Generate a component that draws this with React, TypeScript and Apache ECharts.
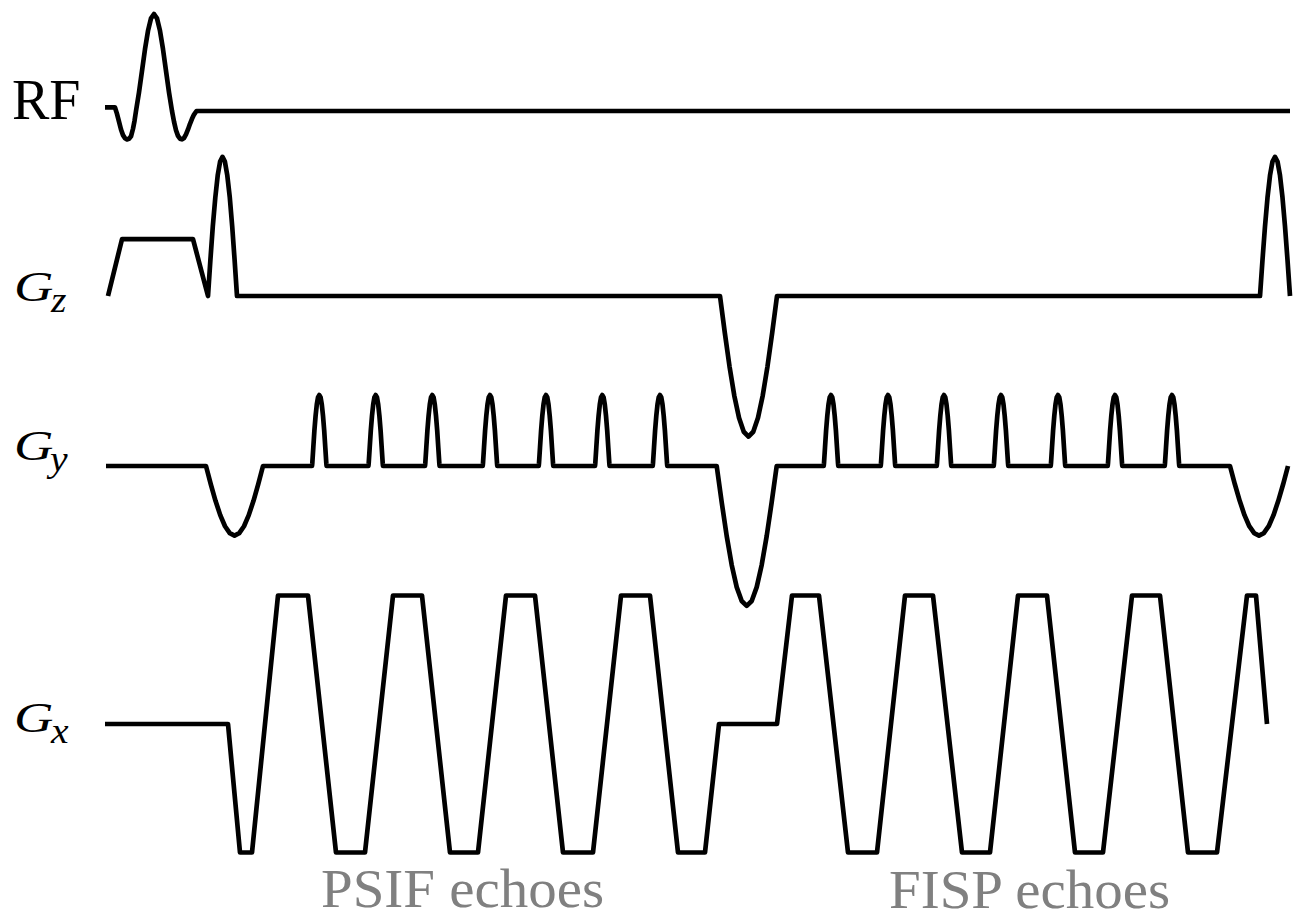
import React, { useEffect, useRef } from "react";
import * as echarts from "echarts";

// ---------- data (time in arbitrary units along the sequence, amplitude normalised) ----------
const TIME_MIN = 0;
const TIME_MAX = 1301;

const channelNames = ["RF", "G", "G", "G"];
const channelSubscripts = ["", "z", "y", "x"];
const echoLabels = ["PSIF echoes", "FISP echoes"];

// RF excitation (sinc-like) then zero
const rfWave: number[][] = [
  [105, 0.025], [115, 0.025], [117, -0.02], [119, -0.075], [121, -0.13], [123, -0.17],
  [125, -0.192], [127, -0.2], [129, -0.196], [131, -0.178], [133, -0.125], [134.5, -0.07],
  [136, 0], [139, 0.131], [142, 0.283], [145, 0.435], [148, 0.565], [151, 0.652],
  [154, 0.683], [157, 0.652], [160, 0.565], [163, 0.435], [166, 0.283], [169, 0.131],
  [172, 0], [174, -0.075], [176, -0.135], [178, -0.175], [180, -0.195], [182, -0.2],
  [184, -0.19], [186, -0.165], [188, -0.13], [190, -0.09], [192, -0.055], [194, -0.025],
  [196.5, 0], [1290, 0],
];

// Slice-select gradient
const gzWave: number[][] = [
  [108, 0], [122, 0.4], [193, 0.4], [208, 0],
  [210.4, 0.254], [212.8, 0.49], [215.3, 0.693], [217.7, 0.849], [220.1, 0.947], [222.5, 0.98],
  [224.9, 0.947], [227.3, 0.849], [229.8, 0.693], [232.2, 0.49], [234.6, 0.254], [237, 0],
  [720, 0],
  [724.75, -0.256], [729.5, -0.495], [734.25, -0.7], [739, -0.857], [743.75, -0.956], [748.5, -0.99],
  [753.25, -0.956], [758, -0.857], [762.75, -0.7], [767.5, -0.495], [772.25, -0.256], [777, 0],
  [1260, 0],
  [1262.5, 0.254], [1265, 0.49], [1267.5, 0.693], [1270, 0.849], [1272.5, 0.947], [1275, 0.98],
  [1277.5, 0.947], [1280, 0.849], [1282.5, 0.693], [1285, 0.49], [1287.5, 0.254], [1290, 0],
];

// Phase-encode gradient: prephaser, blips, rewinders
const gyPrephaser: number[][] = [
  [106, 0], [206, 0],
  [210.75, -0.127], [215.5, -0.245], [220.25, -0.346], [225, -0.424], [229.75, -0.473], [234.5, -0.49],
  [239.25, -0.473], [244, -0.424], [248.75, -0.346], [253.5, -0.245], [258.25, -0.127], [263, 0],
];
const gyBlipTimesPSIF = [319.3, 375.7, 432.3, 490, 546, 602.3, 660];
const gyMiddleRewinder: number[][] = [
  [716.7, 0],
  [721.7, -0.255], [726.7, -0.493], [731.7, -0.697], [736.7, -0.853], [741.7, -0.951], [746.7, -0.985],
  [751.7, -0.951], [756.7, -0.853], [761.7, -0.697], [766.7, -0.493], [771.7, -0.255], [776.7, 0],
];
const gyBlipTimesFISP = [831, 888, 944, 1001, 1058, 1115, 1172];
const gyEndLobe: number[][] = [
  [1230, 0],
  [1234.8, -0.127], [1239.7, -0.245], [1244.5, -0.346], [1249.3, -0.424], [1254.2, -0.473], [1259, -0.49],
  [1263.8, -0.473], [1268.7, -0.424], [1273.5, -0.346], [1278.3, -0.245], [1283.2, -0.127], [1288, 0],
];
// shape of one phase blip: [time offset from blip centre, amplitude]
const gyBlipShape: number[][] = [
  [-7.3, 0], [-7, 0.02], [-6, 0.13], [-4.9, 0.25], [-3.7, 0.354], [-2.5, 0.433], [-1.3, 0.483], [0, 0.5],
  [1.3, 0.483], [2.5, 0.433], [3.7, 0.354], [4.9, 0.25], [6, 0.13], [7, 0.02], [7.3, 0],
];

// Readout gradient (trapezoid corners)
const gxWave: number[][] = [
  [105, 0], [228, 0], [240, -0.905], [252, -0.905],
  [278, 0.905], [308, 0.905], [336, -0.905], [365, -0.905],
  [393, 0.905], [422, 0.905], [450, -0.905], [478, -0.905],
  [506, 0.905], [535, 0.905], [563, -0.905], [593, -0.905],
  [621, 0.905], [650, 0.905], [678, -0.905], [705, -0.905],
  [719, 0], [777, 0],
  [792, 0.905], [819, 0.905], [848, -0.905], [877, -0.905],
  [905, 0.905], [933, 0.905], [962, -0.905], [990, -0.905],
  [1018, 0.905], [1047, 0.905], [1075, -0.905], [1103, -0.905],
  [1132, 0.905], [1160, 0.905], [1188, -0.905], [1217, -0.905],
  [1247, 0.905], [1256, 0.905], [1267, 0],
];

// ---------- build ----------
const placeBlips = (times: number[]) => {
  const out: number[][] = [];
  times.forEach((t) => gyBlipShape.forEach(([dt, a]) => out.push([t + dt, a])));
  return out;
};
const gyWave: number[][] = [
  ...gyPrephaser,
  ...placeBlips(gyBlipTimesPSIF),
  ...gyMiddleRewinder,
  ...placeBlips(gyBlipTimesFISP),
  ...gyEndLobe,
];

const waves = [rfWave, gzWave, gyWave, gxWave];

// layout per channel: baseline (px), y-range
const PX_PER_UNIT = 142;
const channelLayout = [
  { baseline: 111, max: 0.75, min: -0.3 },
  { baseline: 296, max: 1.05, min: -1.05 },
  { baseline: 466, max: 0.6, min: -1.05 },
  { baseline: 724, max: 0.95, min: -0.95 },
];

const SERIF = "'Liberation Serif', 'Times New Roman', serif";

export default function App() {
  const ref = useRef<HTMLDivElement>(null);
  useEffect(() => {
    if (!ref.current) return;
    const chart = echarts.init(ref.current, undefined, { renderer: "svg" });

    const grids = channelLayout.map((c) => ({
      left: 0,
      right: 0,
      top: c.baseline - c.max * PX_PER_UNIT,
      height: (c.max - c.min) * PX_PER_UNIT,
      containLabel: false,
    }));
    const xAxes = channelLayout.map((_, i) => ({
      type: "value", gridIndex: i, min: TIME_MIN, max: TIME_MAX, show: false,
    }));
    const yAxes = channelLayout.map((c, i) => ({
      type: "value", gridIndex: i, min: c.min, max: c.max, show: false,
    }));
    const series = waves.map((w, i) => ({
      type: "line",
      name: channelNames[i] + channelSubscripts[i],
      xAxisIndex: i,
      yAxisIndex: i,
      data: w,
      showSymbol: false,
      symbol: "none",
      smooth: false,
      clip: false,
      silent: true,
      lineStyle: { color: "#000", width: 4.7, join: "round", cap: "butt" },
    }));

    const labelPos = [
      { x: 12, y: 99.5 },
      { x: 14, y: 287 },
      { x: 14, y: 446 },
      { x: 14, y: 718 },
    ];
    const subPos = [
      null,
      { x: 51, y: 300 },
      { x: 50, y: 459 },
      { x: 51, y: 731 },
    ];
    const graphics: any[] = [];
    channelNames.forEach((name, i) => {
      const italic = channelSubscripts[i] !== "";
      graphics.push({
        type: "text",
        x: labelPos[i].x,
        y: labelPos[i].y,
        scaleX: italic ? 1.3 : 1,
        silent: true,
        style: {
          text: name,
          fontFamily: SERIF,
          fontSize: italic ? 42 : 56,
          fontStyle: italic ? "italic" : "normal",
          fill: "#000",
          align: "left",
          verticalAlign: "middle",
          textAlign: "left",
          textVerticalAlign: "middle",
        },
      });
      const sp = subPos[i];
      if (sp) {
        graphics.push({
          type: "text",
          x: sp.x,
          y: sp.y,
          scaleX: 1.1,
          silent: true,
          style: {
            text: channelSubscripts[i],
            fontFamily: SERIF,
            fontSize: 36,
            fontStyle: "italic",
            fill: "#000",
            align: "left",
            verticalAlign: "middle",
            textAlign: "left",
            textVerticalAlign: "middle",
          },
        });
      }
    });
    const echoPos = [
      { x: 321, y: 888.8 },
      { x: 889, y: 889.8 },
    ];
    echoLabels.forEach((t, i) => {
      graphics.push({
        type: "text",
        x: echoPos[i].x,
        y: echoPos[i].y,
        scaleX: 1.055,
        silent: true,
        style: {
          text: t,
          fontFamily: SERIF,
          fontSize: 54,
          fill: "#808080",
          align: "left",
          verticalAlign: "middle",
          textAlign: "left",
          textVerticalAlign: "middle",
        },
      });
    });

    chart.setOption({
      animation: false,
      backgroundColor: "#ffffff",
      grid: grids,
      xAxis: xAxes,
      yAxis: yAxes,
      series,
      graphic: graphics,
    } as any);

    return () => chart.dispose();
  }, []);

  return (
    <div
      ref={ref}
      style={{ position: "fixed", left: 0, top: 0, width: 1301, height: 920, background: "#fff" }}
    />
  );
}
